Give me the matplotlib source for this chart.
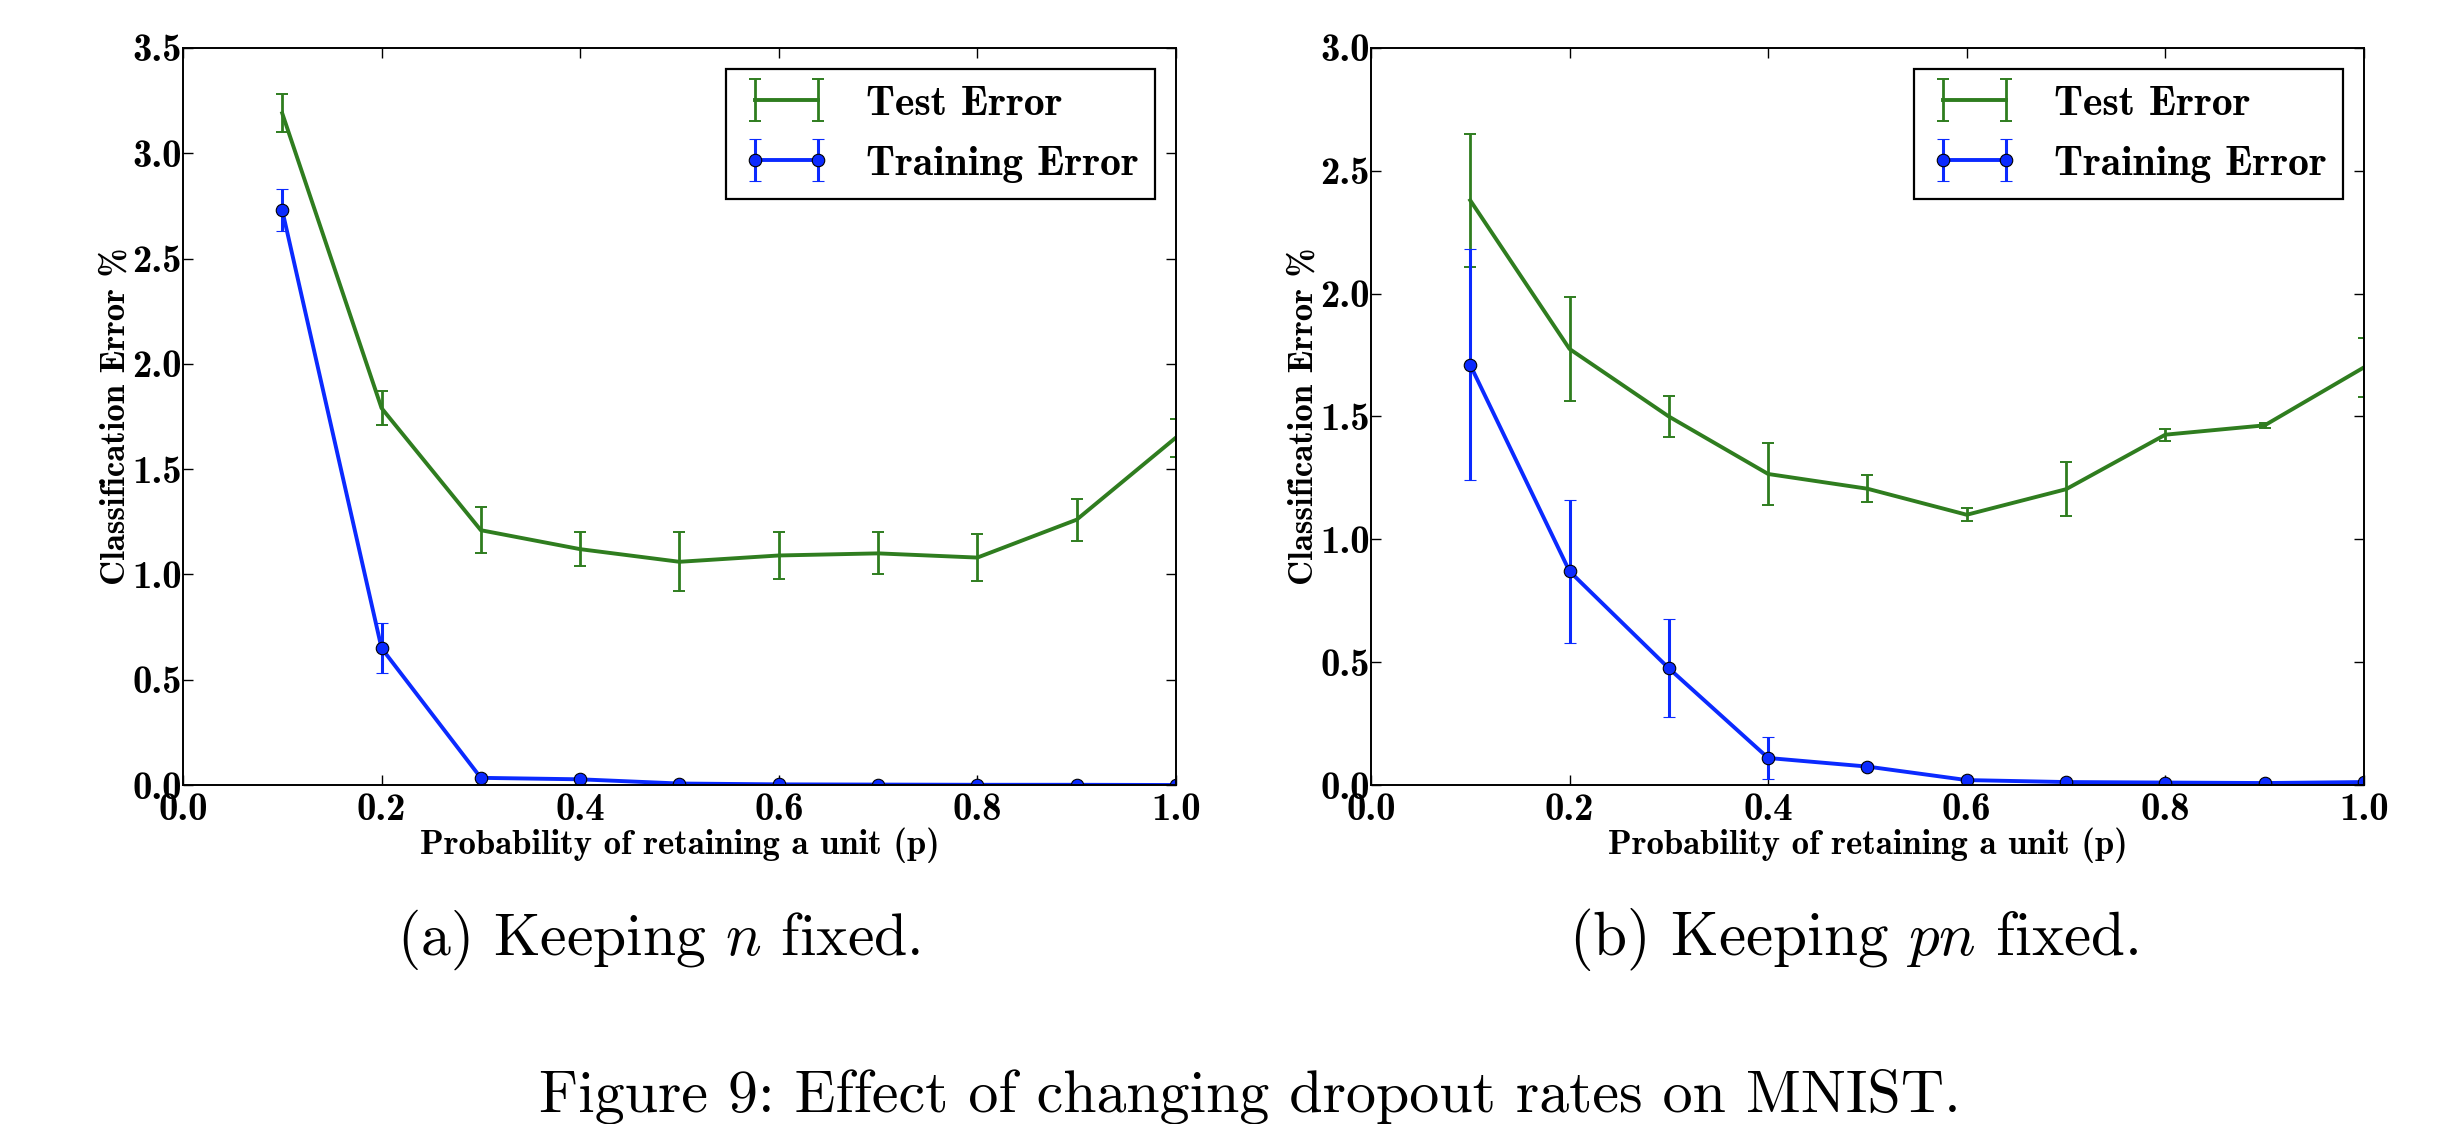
import numpy as np
import matplotlib
matplotlib.use("Agg")
import matplotlib.pyplot as plt

# dropout rate results
p = [0.1, 0.2, 0.3, 0.4, 0.5, 0.6, 0.7, 0.8, 0.9, 1.0]

# (a) keeping n fixed
test_a = [3.19, 1.79, 1.21, 1.12, 1.06, 1.09, 1.10, 1.08, 1.26, 1.65]
test_a_err = [0.09, 0.08, 0.11, 0.08, 0.14, 0.11, 0.10, 0.11, 0.10, 0.09]
train_a = [2.73, 0.65, 0.034, 0.027, 0.007, 0.003, 0.002, 0.001, 0.001, 0.0]
train_a_err = [0.10, 0.12, 0.005, 0.004, 0.002, 0.001, 0.001, 0.001, 0.001, 0.0]

# (b) keeping pn fixed
test_b = [2.38, 1.775, 1.50, 1.266, 1.206, 1.10, 1.204, 1.426, 1.464, 1.70]
test_b_err = [0.27, 0.21, 0.085, 0.125, 0.055, 0.027, 0.11, 0.025, 0.01, 0.12]
train_b = [1.71, 0.87, 0.475, 0.11, 0.075, 0.02, 0.012, 0.01, 0.008, 0.012]
train_b_err = [0.47, 0.29, 0.20, 0.084, 0.01, 0.005, 0.003, 0.003, 0.002, 0.003]

green = "#2f7d1f"
blue = "#0b2aff"

plt.rcParams["mathtext.fontset"] = "cm"
plt.rcParams["axes.unicode_minus"] = False

fig = plt.figure(figsize=(24.52, 11.24), dpi=100)

def make_panel(rect, test, test_err, train, train_err, ymax):
    ax = fig.add_axes(rect)
    ax.errorbar(p, test, yerr=test_err, color=green, lw=2.8, elinewidth=2.0,
                capsize=4.5, capthick=1.4, label="Test Error")
    ax.errorbar(p, train, yerr=train_err, color=blue, lw=2.8, elinewidth=2.2,
                capsize=4.5, capthick=1.4, marker="o", ms=9, mfc=blue, mec="black",
                mew=0.8, label="Training Error")
    ax.set_xlim(0, 1.0)
    ax.set_ylim(0, ymax)
    xt = np.arange(0, 1.01, 0.2)
    yt = np.arange(0, ymax + 0.01, 0.5)
    ax.set_xticks(xt)
    ax.set_yticks(yt)
    ax.set_xticklabels(["%.1f" % v for v in xt], family="cmb10", fontsize=28)
    ax.set_yticklabels(["%.1f" % v for v in yt], family="cmb10", fontsize=28)
    ax.tick_params(direction="in", length=7, width=1, top=True, right=True)
    ax.tick_params(axis="y", pad=1)
    ax.tick_params(axis="x", pad=6)
    for s in ax.spines.values():
        s.set_linewidth(1.4)
    ax.set_xlabel("Probability of retaining a unit (p)", family="cmb10",
                  fontsize=25)
    ax.set_ylabel("Classification Error %", family="cmb10", fontsize=25)
    ax.xaxis.set_label_coords(0.5, -0.057)
    ax.yaxis.set_label_coords(-0.052, 0.5)
    leg = ax.legend(loc="upper right", numpoints=2, prop={"family": "cmb10", "size": 30},
                    fancybox=False, framealpha=1, edgecolor="black",
                    borderaxespad=0.5, borderpad=0.4, labelspacing=0.55,
                    handlelength=2.1, handletextpad=0.85)
    leg.get_frame().set_linewidth(1.6)
    return ax

ax1 = make_panel([0.0746, 0.3016, 0.405, 0.6557], test_a, test_a_err,
                 train_a, train_a_err, 3.5)
ax2 = make_panel([0.5591, 0.3016, 0.405, 0.6557], test_b, test_b_err,
                 train_b, train_b_err, 3.0)

fig.text(659 / 2452, 0.1504, "(a) Keeping $n$ fixed.", family="cmr10",
         fontsize=43, ha="center", va="baseline")
fig.text(1854 / 2452, 0.1504, "(b) Keeping $pn$ fixed.", family="cmr10",
         fontsize=44, ha="center", va="baseline")
fig.text(1250 / 2452, 0.0107, "Figure 9: Effect of changing dropout rates on MNIST.",
         family="cmr10", fontsize=43.2, ha="center", va="baseline")

fig.savefig("out.png", dpi=100)
